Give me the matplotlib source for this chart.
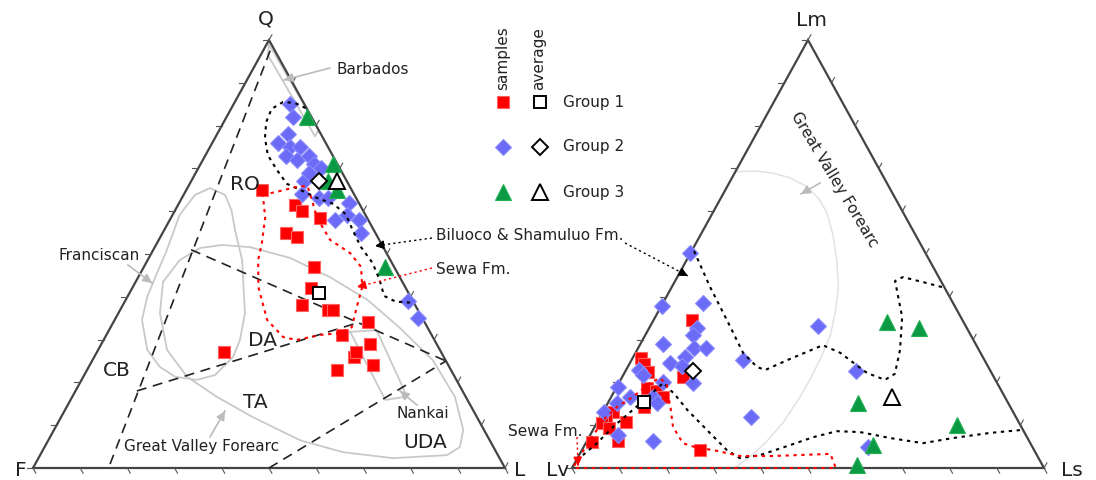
import numpy as np
import matplotlib.pyplot as plt

# ---------------- left diagram: Q-F-L (%), rows are (Q, F, L) ----------------
qfl_g1 = [(65,19,16),(62,14,25),(60,13,27),(59,10,32),(55,19,26),(54,17,29),(47,17,36),
          (42,20,38),(38,24,38),(37,19,44),(37,18,45),(34,12,54),(31,19,50),(29,14,57),
          (26,19,55),(27,18,55),(23,24,53),(24,16,60),(27,46,27)]
qfl_g2 = [(85,3,12),(82,4,14),(78,7,15),(76,10,14),(75,8,17),(73,10,17),(75,6,19),(72,8,20),
          (73,5,22),(71,5,24),(70,4,26),(67,9,24),(64,11,25),(63,8,29),(63,6,31),(62,2,36),
          (59,4,37),(58,7,35),(58,2,40),(55,3,42),(39,1,60),(35,1,64),(69,7,24)]
qfl_g3 = [(82,1,17),(71,1,28),(67,4,29),(65,3,32),(47,2,51)]
qfl_avg1 = (41,19,40)
qfl_avg2 = (67,6,27)
qfl_avg3 = (67,2,31)

# Dickinson provenance field boundaries (Q, F, L)
qfl_bounds = [[(97.5,1,1.5),(0,84,16)],
              [(51,41,8),(25,0,75)],
              [(18,69,13),(34,14,52)],
              [(0,50,50),(25,0,75)]]
qfl_field_labels = ['RO','DA','CB','TA','UDA']

# reference fields
barbados = [(99,0.5,0.5),(79,0,21),(77.5,1.5,21),(96.5,2,1.5),(99,0.5,0.5)]
franciscan = [(55.6,29.4,15.0),(48.6,31.4,20.0),(36.2,37.0,26.8),(29.9,41.2,28.9),(25.9,44.7,29.4),
              (21.7,50.6,27.7),(20.6,55.0,24.4),(21.3,59.2,19.5),(23.6,61.3,15.1),(27.6,62.0,10.4),
              (34.6,59.6,5.8),(40.0,55.8,4.2),(45.6,50.9,3.5),(50.9,46.2,2.9),(59.1,39.4,1.5),
              (63.8,33.8,2.4),(65.4,29.8,4.8),(63.8,27.4,8.8),(60.3,27.9,12.0),(55.6,29.4,15.0)]
gv_qfl = [(43.5,50.7,5.8),(48.6,44.6,6.8),(51.4,38.9,9.7),(52.1,33.9,14.0),(51.6,28.2,20.2),
          (49.1,21.0,29.9),(44.6,14.8,40.6),(39.3,9.5,51.2),(32.7,5.9,61.4),(25.2,2.7,72.1),
          (16.6,2.3,81.1),(8.9,4.4,86.7),(4.9,7.1,88.0),(3.0,10.8,86.2),(2.3,22.6,75.1),
          (3.7,32.5,63.8),(6.5,40.2,53.3),(11.9,47.5,40.6),(16.6,52.7,30.7),(21.3,56.7,22.0),
          (27.6,57.8,14.6),(36.2,55.0,8.8),(43.5,50.7,5.8)]
nankai = [(31.8,16.9,51.3),(32.2,11.1,56.7),(16.7,12.4,70.9),(15.9,17.4,66.7),(31.8,16.9,51.3)]

# study-area fields
bil_qfl = [(84.1,0.2,15.7),(85.3,1.9,12.8),(85.5,4.3,10.2),(83.9,7.5,8.6),(80.8,10.2,9.0),
           (77.1,12.3,10.6),(73.1,13.7,13.2),(69.6,13.5,16.9),(66.4,13.0,20.6),(64.7,10.5,24.8),
           (63.1,8.3,28.6),(61.7,5.5,32.8),(59.3,4.1,36.6),(55.4,4.5,40.1),(51.6,4.7,43.7),
           (47.9,4.1,48.0),(43.9,4.6,51.5),(40.2,5.5,54.3),(38.6,3.7,57.0),(38.3,0.8,60.0)]
sewa_qfl = [(63.8,19.4,16.8),(64.7,15.4,19.9),(65.7,11.2,23.1),(65.9,8.9,25.2),(62.6,9.6,27.8),
            (58.4,10.6,31.0),(53.3,10.4,36.3),(50.2,7.7,42.1),(47.0,7.0,46.0),(42.3,9.1,48.6),
            (37.6,12.6,49.8),(32.9,16.0,51.1),(31.5,19.3,49.2),(31.1,23.6,45.3),(29.9,29.2,40.9),
            (30.6,31.7,37.7),(34.6,33.1,32.3),(42.3,31.1,26.6),(48.6,28.0,23.4),(52.6,25.2,22.2),
            (57.9,21.3,19.7),(63.8,19.4,16.8)]

# ---------------- right diagram: Lm-Lv-Ls (%), rows are (Lm, Lv, Ls) ----------------
lml_g1 = [(34.6,57.3,8.1),(25.8,72.5,1.7),(24.2,72.6,3.2),(22.5,72.7,4.8),(21.3,65.9,12.8),
          (18.6,74.9,6.5),(18.0,73.1,8.9),(16.5,72.5,11.0),(14.3,77.5,8.2),(13.2,84.8,2.0),
          (12.0,86.8,1.2),(10.8,83.2,6.0),(10.4,88.5,1.1),(9.3,87.6,3.1),(6.4,87.0,6.6),
          (6.1,92.8,1.1),(4.1,70.9,25.0)]
lml_g2 = [(50.2,49.8,0),(37.9,62.0,0.1),(38.5,53.0,8.5),(29.0,66.3,4.7),(32.6,57.3,10.1),
          (31.1,58.8,10.1),(28.0,60.2,11.8),(28.0,57.7,14.3),(26.0,63.1,10.9),(24.6,66.9,8.5),
          (23.8,64.9,11.3),(19.8,64.4,15.8),(22.9,74.3,2.8),(21.7,74.1,4.2),(19.0,80.7,0.3),
          (16.5,79.4,4.1),(20.2,70.7,9.1),(16.7,74.4,8.9),(15.1,74.4,10.5),(15.3,82.9,1.8),
          (13.2,86.6,0.2),(7.6,86.5,5.9),(6.4,79.6,14.0),(25.2,51.1,23.7),(11.8,56.2,32.0),
          (33.2,31.2,35.6),(22.7,28.4,48.9),(5.0,34.7,60.3)]
lml_g3 = [(34.0,16.3,49.7),(32.8,10.1,57.1),(15.1,31.9,53.0),(10.0,13.4,76.6),(5.4,33.6,61.0),
          (0.7,39.3,60.0)]
lml_avg1 = (15.5,77.1,7.4)
lml_avg2 = (22.7,63.0,14.3)
lml_avg3 = (16.7,23.9,59.4)

gv_lml = [(69.2,30.8,0),(69.4,26.5,4.1),(68.9,23.0,8.1),(67.8,19.9,12.3),(65.7,17.3,17.0),
          (62.6,16.2,21.2),(59.6,16.2,24.2),(54.4,17.5,28.1),(48.6,19.6,31.8),(42.3,22.4,35.3),
          (36.9,25.7,37.4),(31.1,29.7,39.2),(26.4,33.8,39.8),(20.6,39.3,40.1),(16.6,43.4,40.0),
          (10.5,50.1,39.4),(5.8,56.2,38.0),(2.6,61.0,36.4),(0,65.5,34.5)]
bil_lml_a = [(50.7,48.8,0.5),(42.3,49.6,8.1),(34.6,49.9,15.5),(26.9,50.3,22.8),(23.6,49.0,27.4),
             (22.9,47.6,29.5),(25.2,41.8,33.0),(28.7,32.5,38.8),(26.9,29.7,43.4),(22.2,26.4,51.4),
             (20.6,23.4,56.0),(22.0,20.6,57.4),(27.6,16.7,55.7),(35.3,12.4,52.3),(43.7,9.7,46.6),
             (44.6,7.6,47.8),(43.2,3.2,53.6),(42.1,0,57.9)]
bil_lml_b = [(3.0,96.2,0.8),(5.8,91.8,2.4),(9.6,86.5,3.9),(13.6,80.3,6.1),(17.1,74.9,8.0),
             (19.9,70.7,9.4),(17.1,69.6,13.3),(13.6,68.8,17.6),(8.2,66.7,25.1),(4.2,65.1,30.7),
             (2.3,63.3,34.4),(3.0,58.7,38.3),(5.1,51.9,43.0),(7.2,45.3,47.5),(8.6,39.6,51.8),
             (8.4,34.8,56.8),(7.0,29.1,63.9),(5.8,22.7,71.5),(7.0,15.8,77.2),(8.2,7.3,84.5),
             (8.9,0.2,90.9)]
sewa_lml = [(0.5,99.3,0.2),(6.5,93.0,0.5),(11.7,87.1,1.2),(14.3,83.3,2.4),(16.6,78.8,4.6),
            (19.9,73.5,6.6),(21.0,70.9,8.1),(19.6,70.1,10.3),(17.5,71.0,11.5),(14.3,72.0,13.7),
            (9.6,73.8,16.6),(5.8,73.6,20.6),(4.7,71.1,24.2),(4.2,68.0,27.8),(2.8,63.0,34.2),
            (2.8,56.0,41.2),(3.3,43.6,53.1),(0,44.1,55.9),(0,100,0)]

groups = ['Group 1', 'Group 2', 'Group 3']

# ---------------- drawing ----------------
RED, BLUE, GREEN = '#ff0000', '#6b6bf7', '#0a9a43'
GRAY = '#c9c9c9'

fig = plt.figure(figsize=(10.96, 4.8), dpi=100)
ax = fig.add_axes([0, 0, 1, 1])
ax.set_xlim(0, 1096)
ax.set_ylim(480, 0)
ax.axis('off')

# triangle corners in figure pixels: (top, left, right)
TRI_L = np.array([(269, 40), (33, 468), (505, 468)], float)
TRI_R = np.array([(808, 40), (572, 468), (1044, 468)], float)


def tern(pts, tri):
    p = np.atleast_2d(np.asarray(pts, float))
    p = p / p.sum(axis=1, keepdims=True)
    xy = p @ tri
    return xy[:, 0], xy[:, 1]


def frame(tri):
    t, l, r = tri
    ax.plot([l[0], r[0], t[0], l[0]], [l[1], r[1], t[1], l[1]],
            color='#444444', lw=1.6, zorder=2, solid_joinstyle='miter')
    dirs = [(l, t, np.array([-6.0, 0])),
            (l, r, np.array([2.9, 5.2])),
            (t, r, np.array([2.9, -5.2]))]
    for a, b, d in dirs:
        for i in range(11):
            p = a + (b - a) * i / 10
            ax.plot([p[0], p[0] + d[0]], [p[1], p[1] + d[1]], color='#555555', lw=0.8, zorder=2)


def line(pts, tri, **kw):
    x, y = tern(pts, tri)
    ax.plot(x, y, **kw)


def scatter(pts, tri, **kw):
    x, y = tern(pts, tri)
    ax.plot(x, y, ls='none', **kw)


def arrow(x0, y0, x1, y1, color, ls, lw=1.0):
    ax.plot([x0, x1], [y0, y1], color=color, ls=ls, lw=lw, zorder=6)
    v = np.array([x1 - x0, y1 - y0])
    v = v / np.hypot(*v)
    ax.annotate('', xy=(x1, y1), xytext=(x1 - v[0] * 4, y1 - v[1] * 4),
                arrowprops=dict(arrowstyle='-|>', color=color, lw=lw,
                                mutation_scale=13, shrinkA=0, shrinkB=0), zorder=6)


dot = (0, (1.6, 2.2))
dash = (0, (6, 4))

# ----- left triangle -----
frame(TRI_L)
for seg in qfl_bounds:
    line(seg, TRI_L, color='#222222', lw=1.2, ls=dash, zorder=2)
for poly in (barbados, franciscan, gv_qfl, nankai):
    line(poly, TRI_L, color=GRAY, lw=1.3, zorder=1)
line(bil_qfl, TRI_L, color='black', lw=1.5, ls=dot, zorder=4)
line(sewa_qfl, TRI_L, color=RED, lw=1.5, ls=dot, zorder=4)

sq = dict(marker='s', ms=8, mfc=RED, mec='#ff6060', mew=0.8, zorder=3)
dm = dict(marker='D', ms=8, mfc=BLUE, mec='#8c8cff', mew=0.8, zorder=3)
tr = dict(marker='^', ms=11, mfc=GREEN, mec='#22b055', mew=0.8, zorder=3)
av = dict(mfc='white', mec='black', mew=1.4, zorder=5)

scatter(qfl_g1, TRI_L, **sq)
scatter(qfl_g2, TRI_L, **dm)
scatter(qfl_g3, TRI_L, **tr)
scatter(qfl_avg1, TRI_L, marker='s', ms=9, **av)
scatter(qfl_avg2, TRI_L, marker='D', ms=8, **av)
scatter(qfl_avg3, TRI_L, marker='^', ms=11, **av)

big = dict(fontsize=14.5, color='#222222', ha='center', va='center')
ax.text(266, 19, 'Q', **big)
ax.text(21, 470, 'F', **big)
ax.text(520, 470, 'L', **big)
for lab, (x, y) in zip(qfl_field_labels, [(245, 185), (262, 341), (117, 371), (255, 403), (425, 442)]):
    ax.text(x, y, lab, **big)

small = dict(fontsize=11, color='#222222', va='center')
ax.text(337, 69, 'Barbados', ha='left', **small)
ax.text(140, 256, 'Franciscan', ha='right', **small)
ax.text(202, 447, 'Great Valley Forearc', ha='center', **small)
ax.text(423, 413, 'Nankai', ha='center', **small)
arrow(330, 68, 284, 80, '#bbbbbb', '-', 1.2)
arrow(128, 265, 152, 283, '#bbbbbb', '-', 1.2)
arrow(417, 405, 400, 391, '#bbbbbb', '-', 1.2)
arrow(210, 437, 225, 411, '#bbbbbb', '-', 1.2)

ax.text(436, 236, 'Biluoco & Shamuluo Fm.', ha='left', **small)
ax.text(436, 269, 'Sewa Fm.', ha='left', **small)
arrow(432, 238, 375, 246, 'black', dot)
arrow(432, 268, 357, 287, RED, dot)

# ----- right triangle -----
frame(TRI_R)
line(gv_lml, TRI_R, color='#e2e2e2', lw=1.1, zorder=1)
line(bil_lml_a, TRI_R, color='black', lw=1.5, ls=dot, zorder=4)
line(bil_lml_b, TRI_R, color='black', lw=1.5, ls=dot, zorder=4)
line(sewa_lml, TRI_R, color=RED, lw=1.5, ls=dot, zorder=4)

scatter(lml_g1, TRI_R, **sq)
scatter(lml_g2, TRI_R, **dm)
scatter(lml_g3, TRI_R, **tr)
scatter(lml_avg1, TRI_R, marker='s', ms=9, **av)
scatter(lml_avg2, TRI_R, marker='D', ms=8, **av)
scatter(lml_avg3, TRI_R, marker='^', ms=11, **av)

ax.text(812, 20, 'Lm', **big)
ax.text(558, 470, 'Lv', **big)
ax.text(1072, 470, 'Ls', **big)
ax.text(834, 180, 'Great Valley Forearc', rotation=-59, rotation_mode='anchor',
        ha='center', **small)
arrow(820, 183, 801, 194, '#bbbbbb', '-', 1.2)
arrow(625, 243, 688, 276, 'black', dot)
ax.text(583, 431, 'Sewa Fm.', ha='right', **small)
arrow(577, 437, 578, 466, RED, dot)

# ----- legend -----
ax.text(503, 90, 'samples', rotation=90, ha='center', va='bottom', fontsize=11, color='#222222')
ax.text(539, 90, 'average', rotation=90, ha='center', va='bottom', fontsize=11, color='#222222')
leg_y = [102, 147, 192]
for g, y, s, m in zip(groups, leg_y, (sq, dm, tr), ('s', 'D', '^')):
    ax.plot(503, y, **s)
    ax.plot(540, y, marker=m, ms=9 if m == 's' else (8 if m == 'D' else 11), **av)
    ax.text(563, y, g, ha='left', **small)

fig.savefig('out.png', dpi=100)
